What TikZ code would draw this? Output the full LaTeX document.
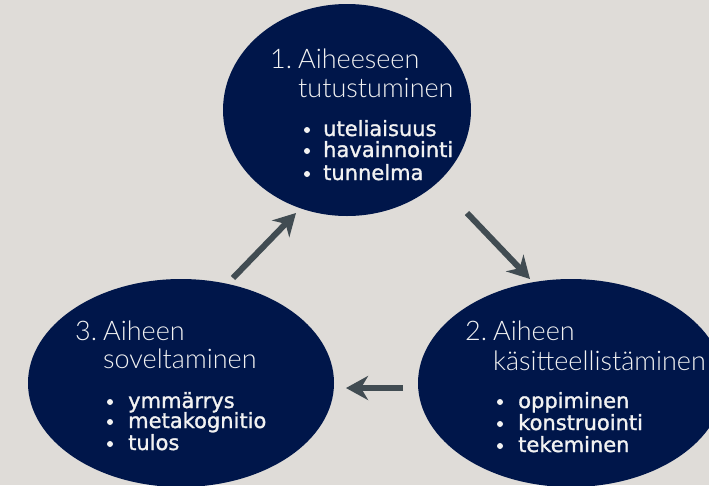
\documentclass[tikz,border=0pt]{standalone}
\usepackage{fontspec}
\setmainfont{DejaVu Sans}
\newfontfamily\lightfont{Lato}[UprightFont=* Light]
\newfontfamily\bulfont{DejaVu Sans}[FakeBold=1.3]
\usetikzlibrary{shapes.geometric,arrows.meta}
\definecolor{bg}{HTML}{DFDCD8}
\definecolor{navy}{HTML}{00164A}
\definecolor{arr}{HTML}{414C52}
\definecolor{txt}{HTML}{F2F2F2}
\tikzset{
  blob/.style={ellipse,fill=navy,draw=none,inner sep=0pt},
  ttl/.style={anchor=base west,inner sep=0pt,text=txt,font=\lightfont\fontsize{27}{27}\selectfont},
  bul/.style={anchor=base west,inner sep=0pt,text=txt,font=\bulfont\fontsize{21}{21}\selectfont},
  dot/.style={circle,fill=txt,inner sep=0pt,minimum size=6pt},
  flow/.style={draw=arr,line width=6pt,-{Stealth[length=22pt,width=24pt,inset=7pt]}}
}
\begin{document}
\begin{tikzpicture}[x=1pt,y=-1pt]
\fill[bg] (0,0) rectangle (709,485);
\useasboundingbox (0,0) rectangle (709,485);
\begin{scope}
\clip (0,0) rectangle (709,485);
\node[blob,minimum width=248pt,minimum height=212pt] (e1) at (347,110) {};
\node[blob,minimum width=306pt,minimum height=208pt] (e3) at (181,383) {};
\node[blob,minimum width=306pt,minimum height=208pt] (e2) at (571,383) {};
\end{scope}
% top
\node[ttl] (n1) at (270,68) {1.};
\node[ttl] (t1a) at (298,68) {Aiheeseen};
\node[ttl] (t1b) at (298,97) {tutustuminen};
\node[dot] (d1a) at (307,130) {};
\node[bul] (b1a) at (323,136) {uteliaisuus};
\node[dot] (d1b) at (307,151) {};
\node[bul] (b1b) at (323,157) {havainnointi};
\node[dot] (d1c) at (307,174) {};
\node[bul] (b1c) at (323,180) {tunnelma};
% left
\node[ttl] (n3) at (75,340) {3.};
\node[ttl] (t3a) at (103,340) {Aiheen};
\node[ttl] (t3b) at (103,368) {soveltaminen};
\node[dot] (d3a) at (110,402) {};
\node[bul] (b3a) at (128,408) {ymmärrys};
\node[dot] (d3b) at (110,422) {};
\node[bul] (b3b) at (128,428) {metakognitio};
\node[dot] (d3c) at (110,444) {};
\node[bul] (b3c) at (128,450) {tulos};
% right
\node[ttl] (n2) at (465,340) {2.};
\node[ttl] (t2a) at (493,340) {Aiheen};
\node[ttl] (t2b) at (493,370) {käsitteellistäminen};
\node[dot] (d2a) at (500,402) {};
\node[bul] (b2a) at (518,408) {oppiminen};
\node[dot] (d2b) at (500,424) {};
\node[bul] (b2b) at (518,430) {konstruointi};
\node[dot] (d2c) at (500,446) {};
\node[bul] (b2c) at (518,452) {tekeminen};
% arrows
\coordinate (a1s) at (233,278);
\coordinate (a1e) at (296,213);
\coordinate (a2s) at (467,213);
\coordinate (a2e) at (530,279);
\coordinate (a3s) at (403,388);
\coordinate (a3e) at (346,388);
\draw[flow] (a1s) -- (a1e);
\draw[flow] (a2s) -- (a2e);
\draw[flow] (a3s) -- (a3e);
\end{tikzpicture}
\end{document}
